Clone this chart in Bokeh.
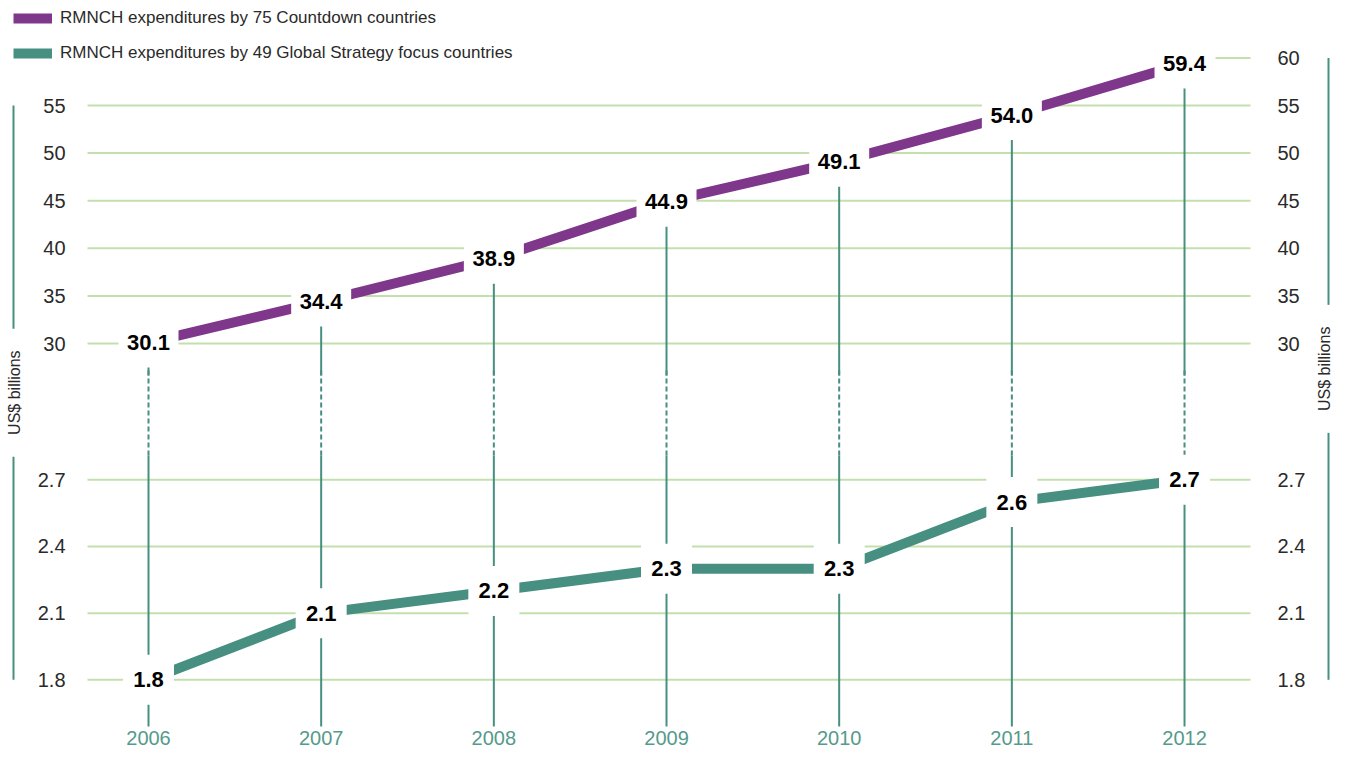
import math
from bokeh.plotting import figure
from bokeh.models import Range1d, Legend, LegendItem
from bokeh.core.properties import value
from bokeh.embed import file_html
from bokeh.resources import INLINE

# ---------------- data ----------------
years = [2006, 2007, 2008, 2009, 2010, 2011, 2012]
countdown = [30.1, 34.4, 38.9, 44.9, 49.1, 54.0, 59.4]
focus = [1.8, 2.1, 2.2, 2.3, 2.3, 2.6, 2.7]
upper_ticks_left = [30, 35, 40, 45, 50, 55]
upper_ticks_right = [30, 35, 40, 45, 50, 55, 60]
lower_ticks = [1.8, 2.1, 2.4, 2.7]
series_names = ["RMNCH expenditures by 75 Countdown countries",
                "RMNCH expenditures by 49 Global Strategy focus countries"]
axis_title = "US$ billions"

# ---------------- layout / style ----------------
W, H = 1335, 748
PURPLE = "#7f378b"
TEAL = "#478f80"
GRID = "#c3dfae"
YEARC = "#559a8b"
TXT = "#2a2a2a"
FONTNAME = "Liberation Sans"
FONT = value(FONTNAME)

# scale helpers (screen-pixel <-> data)
def x_at(px):
    return 2006 + (px - 148) / 172.67

def up_at(py):
    return 30 + (343 - py) / 9.52

def lo_at(py):
    return 1.8 + (679.3 - py) / 222.2

def up_px(v):
    return 343 - (v - 30) * 9.52

def lo_px(v):
    return 679.3 - (v - 1.8) * 222.2

p = figure(width=W, height=H, output_backend="svg", toolbar_location=None,
           x_range=Range1d(x_at(0), x_at(W)),
           y_range=Range1d(up_at(H), up_at(0)),
           x_axis_location=None, y_axis_location=None, min_border=0)
p.extra_y_ranges = {"low": Range1d(lo_at(H), lo_at(0))}
p.outline_line_color = None
p.xgrid.visible = False
p.ygrid.visible = False
p.background_fill_color = "white"

gx0, gx1 = x_at(87), x_at(1250)

# gridlines
p.segment(x0=[gx0] * len(upper_ticks_left), x1=[gx1] * len(upper_ticks_left),
          y0=upper_ticks_left, y1=upper_ticks_left, line_color=GRID, line_width=2)
p.segment(x0=[x_at(1215)], x1=[gx1], y0=[upper_ticks_right[-1]], y1=[upper_ticks_right[-1]],
          line_color=GRID, line_width=2)
p.segment(x0=[gx0] * len(lower_ticks), x1=[gx1] * len(lower_ticks),
          y0=lower_ticks, y1=lower_ticks, line_color=GRID, line_width=2, y_range_name="low")

# vertical year lines
n = len(years)
lo_bottom = lo_at(726)
lo_gap = lo_at(455)
up_gap = up_at(375)
p.segment(x0=years, x1=years, y0=[lo_bottom] * n, y1=[lo_gap] * n,
          line_color=TEAL, line_width=2, y_range_name="low")
p.segment(x0=years, x1=years, y0=[lo_gap] * n, y1=[lo_at(368)] * n,
          line_color=TEAL, line_width=2, line_dash="5 3", y_range_name="low")
p.segment(x0=years, x1=years, y0=[up_gap] * n, y1=countdown,
          line_color=TEAL, line_width=2)

# series
r1 = p.line(years, countdown, line_color=PURPLE, line_width=10, line_cap="butt")
r2 = p.line(years, focus, line_color=TEAL, line_width=10, line_cap="butt",
            y_range_name="low")

# label boxes and labels
cd_lab = ["%.1f" % v for v in countdown]
fo_lab = ["%.1f" % v for v in focus]
p.rect(years, countdown, width=[60 if len(s) > 3 else 51 for s in cd_lab], height=50,
       width_units="screen", height_units="screen", fill_color="white", line_color=None)
p.rect(years, focus, width=[60 if len(s) > 3 else 51 for s in fo_lab], height=50,
       width_units="screen", height_units="screen", fill_color="white", line_color=None,
       y_range_name="low")
p.text(years, countdown, text=cd_lab, text_font=FONT, text_font_style="bold",
       text_font_size="22px", text_color="black", text_align="center",
       text_baseline="middle")
p.text(years, focus, text=fo_lab, text_font=FONT, text_font_style="bold",
       text_font_size="22px", text_color="black", text_align="center",
       text_baseline="middle", y_range_name="low")

# tick labels
lx, rx = x_at(65), x_at(1277)
p.text([lx] * len(upper_ticks_left), upper_ticks_left, text=[str(t) for t in upper_ticks_left],
       text_font=FONT, text_font_size="20px", text_color=TXT, text_align="right",
       text_baseline="middle")
p.text([rx] * len(upper_ticks_right), upper_ticks_right, text=[str(t) for t in upper_ticks_right],
       text_font=FONT, text_font_size="20px", text_color=TXT, text_align="left",
       text_baseline="middle")
p.text([lx] * len(lower_ticks), lower_ticks, text=["%.1f" % t for t in lower_ticks],
       text_font=FONT, text_font_size="20px", text_color=TXT, text_align="right",
       text_baseline="middle", y_range_name="low")
p.text([rx] * len(lower_ticks), lower_ticks, text=["%.1f" % t for t in lower_ticks],
       text_font=FONT, text_font_size="20px", text_color=TXT, text_align="left",
       text_baseline="middle", y_range_name="low")

# year labels
p.text(years, [lo_at(744)] * n, text=[str(y) for y in years], text_font=FONT,
       text_font_size="20px", text_color=YEARC, text_align="center",
       text_baseline="bottom", y_range_name="low")

# side axis lines with rotated titles
for ax_px, top_val, title_px in ((13, upper_ticks_left[-1], 14),
                                 (1328, upper_ticks_right[-1], 1324)):
    ax_x = x_at(ax_px)
    top_px = up_px(top_val)
    bot_px = lo_px(lower_ticks[0])
    mid = (top_px + bot_px) / 2
    p.segment(x0=[ax_x], x1=[ax_x], y0=[top_val], y1=[up_at(mid - 64)],
              line_color=TEAL, line_width=2)
    p.segment(x0=[ax_x], x1=[ax_x], y0=[lo_at(mid + 64)], y1=[lower_ticks[0]],
              line_color=TEAL, line_width=2, y_range_name="low")
    p.text([x_at(title_px)], [up_at(mid)], text=[axis_title], angle=math.pi / 2,
           text_font=FONT, text_font_size="16px", text_color=TXT, text_align="center",
           text_baseline="middle")

# legend
legend = Legend(items=[LegendItem(label=series_names[0], renderers=[r1]),
                       LegendItem(label=series_names[1], renderers=[r2])],
                location=(13, H - 8 - 55), orientation="vertical",
                glyph_width=39, glyph_height=20, label_height=20, label_standoff=8,
                spacing=15, padding=0, margin=0, border_line_color=None,
                background_fill_alpha=0, label_text_font=FONTNAME, label_text_font_size="17px",
                label_text_color=TXT)
p.add_layout(legend)

open("out.html", "w").write(file_html(p, INLINE))
